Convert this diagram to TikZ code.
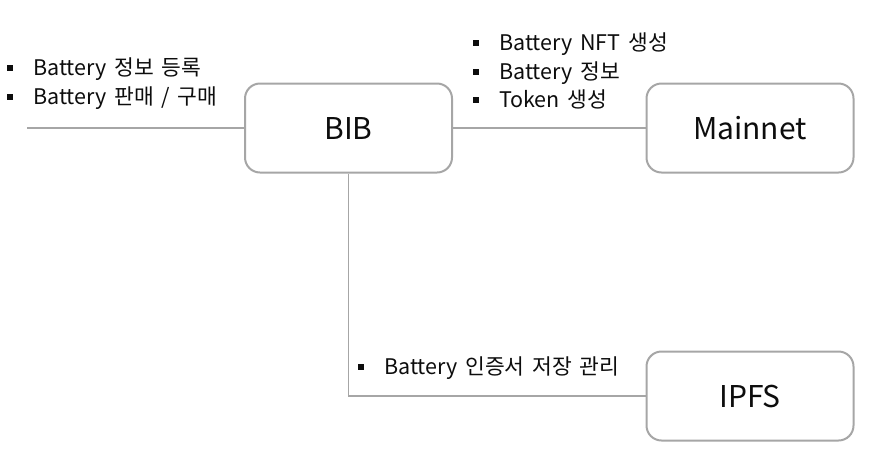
\documentclass[tikz,border=0pt]{standalone}
\usepackage{fontspec}
\setmainfont{Noto Sans CJK KR}[WordSpace=1.6]
\usetikzlibrary{positioning}

\definecolor{linegray}{HTML}{A6A6A6}
\definecolor{textblack}{HTML}{0D0D0D}
\newcommand{\sqb}{\makebox[26pt][l]{\rule[4.5pt]{6pt}{6pt}}}

\begin{document}
\begin{tikzpicture}[x=1pt,y=-1pt]
    % Define styles
    \tikzset{
        system/.style={draw=linegray, line width=2pt, rounded corners=15pt, fill=white,
            minimum width=207pt, minimum height=89pt, text=textblack,
            font=\fontsize{30}{32}\selectfont},
        link/.style={draw=linegray, line width=1.6pt},
        notes/.style={anchor=west, align=left, inner sep=0pt, text=textblack,
            font=\fontsize{21.5}{28.5}\selectfont}
    }
    \useasboundingbox (0,0) rectangle (872,456);

    % --- Systems ---
    \node[system] (bib) at (348.5,128) {BIB};
    \node[system] (mainnet) at (750,128) {Mainnet};
    \node[system] (ipfs) at (750,396) {IPFS};

    % --- Connectors ---
    \coordinate (userend) at (27,128);
    \draw[link] (userend) -- (bib.west);
    \draw[link] (bib.east) -- (mainnet.west);
    \draw[link] (bib.south) |- (ipfs.west);

    % --- Notes ---
    \node[notes] (usernote) at (7,83.5) {\sqb Battery 정보 등록\\ \sqb Battery 판매 / 구매};
    \node[notes] (chainnote) at (473,71) {\sqb Battery NFT 생성\\ \sqb Battery 정보\\ \sqb Token 생성};
    \node[notes] (storenote) at (358,368) {\sqb Battery 인증서 저장 관리};

\end{tikzpicture}
\end{document}
